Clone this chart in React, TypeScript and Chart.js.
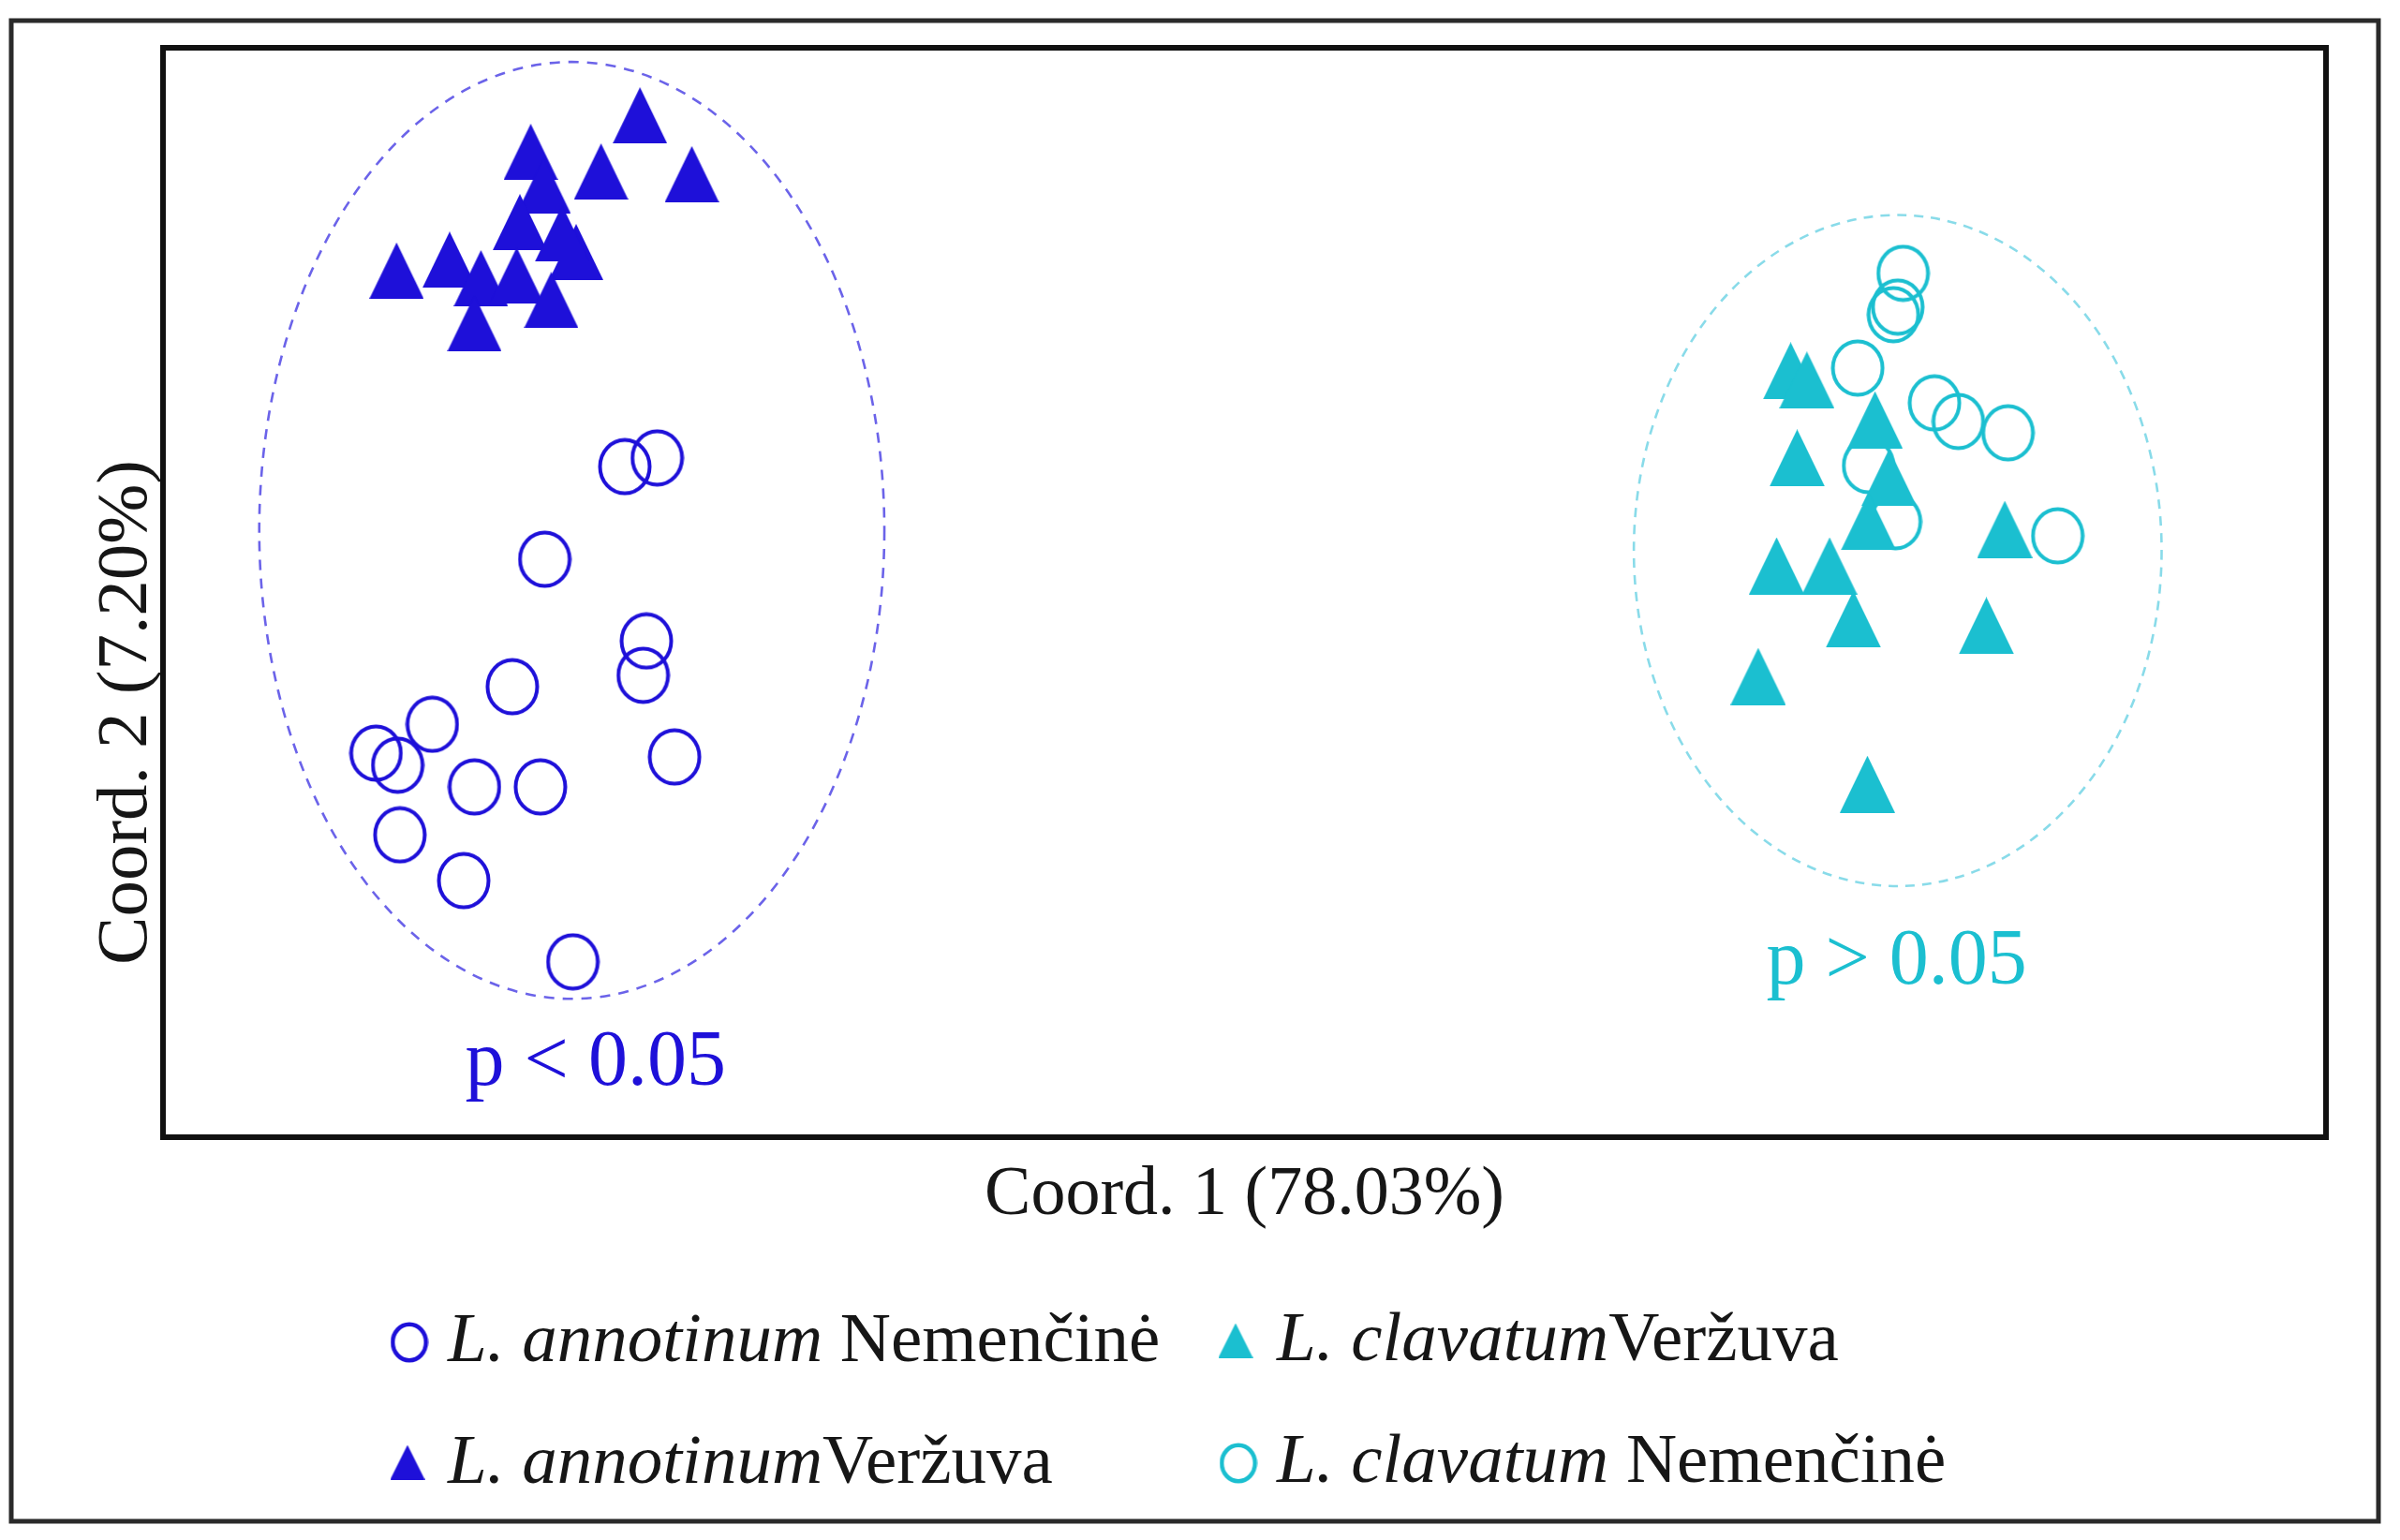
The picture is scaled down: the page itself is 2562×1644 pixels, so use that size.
import React, { useEffect, useRef } from 'react';
import { Chart, registerables } from 'chart.js';

Chart.register(...registerables);

const W = 2562;
const H = 1644;

// ---- data (arbitrary PCoA units, axes -1..1) ----
const annotinumVerzuvaX = [-0.559, -0.660, -0.595, -0.511, -0.648, -0.670, -0.618, -0.631, -0.784, -0.735, -0.706, -0.673, -0.641, -0.712];
const annotinumVerzuvaY = [0.876, 0.809, 0.773, 0.768, 0.747, 0.680, 0.625, 0.659, 0.591, 0.611, 0.577, 0.582, 0.537, 0.494];

const annotinumNemencineX = [-0.573, -0.543, -0.647, -0.553, -0.556, -0.677, -0.751, -0.803, -0.783, -0.712, -0.651, -0.527, -0.781, -0.722, -0.621];
const annotinumNemencineY = [0.231, 0.247, 0.061, -0.089, -0.152, -0.173, -0.242, -0.295, -0.317, -0.357, -0.357, -0.302, -0.445, -0.529, -0.678];

const clavatumNemencineX = [0.609, 0.604, 0.600, 0.567, 0.638, 0.660, 0.706, 0.577, 0.602, 0.752];
const clavatumNemencineY = [0.586, 0.524, 0.510, 0.412, 0.348, 0.314, 0.293, 0.233, 0.130, 0.104];

const clavatumVerzuvaX = [0.505, 0.520, 0.583, 0.511, 0.596, 0.577, 0.703, 0.492, 0.541, 0.563, 0.686, 0.475, 0.576];
const clavatumVerzuvaY = [0.407, 0.390, 0.317, 0.247, 0.211, 0.130, 0.116, 0.049, 0.049, -0.049, -0.061, -0.154, -0.352];

// confidence ellipses: [centerX, centerY, radiusX, radiusY]
const annotinumEllipse = [-0.622, 0.114, 0.289, 0.860];
const clavatumEllipse = [0.604, 0.077, 0.244, 0.616];

// significance labels: [x, y(baseline)]
const annotinumLabel = [-0.600, -0.904];
const clavatumLabel = [0.603, -0.718];
const annotinumLabelText = 'p < 0.05';
const clavatumLabelText = 'p > 0.05';

const xTitle = 'Coord. 1 (78.03%)';
const yTitle = 'Coord. 2 (7.20%)';

const BLUE = '#1e10d9';
const CYAN = '#1bbfd0';
const TEXT = '#161616';
const FONT = '"Liberation Serif", "Times New Roman", serif';

function makeTriangle(w: number, h: number, color: string) {
  const c = document.createElement('canvas');
  c.width = w;
  c.height = h;
  const g = c.getContext('2d')!;
  g.fillStyle = color;
  g.beginPath();
  g.moveTo(w / 2, 0);
  g.lineTo(w, h);
  g.lineTo(0, h);
  g.closePath();
  g.fill();
  return c;
}

function makeRing(w: number, h: number, lw: number, color: string) {
  const c = document.createElement('canvas');
  c.width = w;
  c.height = h;
  const g = c.getContext('2d')!;
  g.strokeStyle = color;
  g.lineWidth = lw;
  g.beginPath();
  g.ellipse(w / 2, h / 2, w / 2 - lw / 2 - 0.5, h / 2 - lw / 2 - 0.5, 0, 0, Math.PI * 2);
  g.stroke();
  return c;
}

function pts(xs: number[], ys: number[]) {
  return xs.map((x, i) => ({ x, y: ys[i] }));
}

export default function App() {
  const ref = useRef<HTMLCanvasElement>(null);

  useEffect(() => {
    const canvas = ref.current!;
    const triBlue = makeTriangle(58, 60, BLUE);
    const triCyan = makeTriangle(59, 61, CYAN);
    const ringBlue = makeRing(58, 62, 4, BLUE);
    const ringCyan = makeRing(58, 62, 4, CYAN);
    const legTriBlue = makeTriangle(37, 37, BLUE);
    const legTriCyan = makeTriangle(37, 37, CYAN);
    const legRingBlue = makeRing(41, 44, 4.5, BLUE);
    const legRingCyan = makeRing(41, 44, 4.5, CYAN);

    const decor = {
      id: 'decor',
      beforeDatasetsDraw(chart: any) {
        const { ctx, scales } = chart;
        const xs = scales.x;
        const ys = scales.y;
        const drawEll = (e: number[], color: string, dash: number[]) => {
          const cx = xs.getPixelForValue(e[0]);
          const cy = ys.getPixelForValue(e[1]);
          const rx = Math.abs(xs.getPixelForValue(e[0] + e[2]) - cx);
          const ry = Math.abs(ys.getPixelForValue(e[1] + e[3]) - cy);
          ctx.save();
          ctx.strokeStyle = color;
          ctx.lineWidth = 2.6;
          ctx.setLineDash(dash);
          ctx.beginPath();
          ctx.ellipse(cx, cy, rx, ry, 0, 0, Math.PI * 2);
          ctx.stroke();
          ctx.restore();
        };
        drawEll(annotinumEllipse, 'rgba(70,60,228,0.8)', [11, 9]);
        drawEll(clavatumEllipse, 'rgba(40,190,215,0.55)', [10, 8]);
      },
      afterDraw(chart: any) {
        const { ctx, chartArea, scales } = chart;
        const xs = scales.x;
        const ys = scales.y;
        ctx.save();
        // outer frame
        ctx.strokeStyle = '#2a2a2a';
        ctx.lineWidth = 5;
        ctx.strokeRect(12, 22, 2539 - 12, 1624 - 22);
        // plot frame
        ctx.strokeStyle = '#111';
        ctx.lineWidth = 6;
        ctx.strokeRect(chartArea.left, chartArea.top, chartArea.right - chartArea.left, chartArea.bottom - chartArea.top);

        // p labels
        ctx.textAlign = 'center';
        ctx.textBaseline = 'alphabetic';
        ctx.font = `84px ${FONT}`;
        ctx.fillStyle = BLUE;
        ctx.fillText(annotinumLabelText, xs.getPixelForValue(annotinumLabel[0]), ys.getPixelForValue(annotinumLabel[1]));
        ctx.fillStyle = CYAN;
        ctx.fillText(clavatumLabelText, xs.getPixelForValue(clavatumLabel[0]), ys.getPixelForValue(clavatumLabel[1]));

        // axis titles
        ctx.fillStyle = TEXT;
        ctx.font = `74px ${FONT}`;
        ctx.fillText(xTitle, (chartArea.left + chartArea.right) / 2 + 0, 1296);
        ctx.save();
        ctx.translate(156, (chartArea.top + chartArea.bottom) / 2 + 128);
        ctx.rotate(-Math.PI / 2);
        ctx.font = `77px ${FONT}`;
        ctx.fillText(yTitle, 0, 0);
        ctx.restore();

        // legend
        ctx.textAlign = 'left';
        const drawEntry = (marker: HTMLCanvasElement, mx: number, my: number, tx: number, ty: number, species: string, site: string) => {
          ctx.drawImage(marker, mx - marker.width / 2, my - marker.height / 2);
          let x = tx;
          ctx.fillStyle = TEXT;
          ctx.font = `italic 75px ${FONT}`;
          ctx.fillText(species, x, ty);
          x += ctx.measureText(species).width;
          ctx.font = `75px ${FONT}`;
          ctx.fillText(site, x, ty);
        };
        drawEntry(legRingBlue, 437, 1433, 478, 1453, 'L. annotinum', ' Nemenčinė');
        drawEntry(legTriBlue, 435, 1561, 478, 1583, 'L. annotinum', 'Veržuva');
        drawEntry(legTriCyan, 1319, 1431, 1363, 1452, 'L. clavatum', 'Veržuva');
        drawEntry(legRingCyan, 1322, 1562, 1363, 1582, 'L. clavatum', ' Nemenčinė');
        ctx.restore();
      },
    };

    const chart = new Chart(canvas, {
      type: 'scatter',
      data: {
        datasets: [
          { label: 'L. annotinum Veržuva', data: pts(annotinumVerzuvaX, annotinumVerzuvaY), pointStyle: triBlue as any, pointRadius: 30, order: 1 },
          { label: 'L. clavatum Veržuva', data: pts(clavatumVerzuvaX, clavatumVerzuvaY), pointStyle: triCyan as any, pointRadius: 30, order: 1 },
          { label: 'L. annotinum Nemenčinė', data: pts(annotinumNemencineX, annotinumNemencineY), pointStyle: ringBlue as any, pointRadius: 30, order: 2 },
          { label: 'L. clavatum Nemenčinė', data: pts(clavatumNemencineX, clavatumNemencineY), pointStyle: ringCyan as any, pointRadius: 30, order: 2 },
        ],
      },
      options: {
        responsive: false,
        animation: false,
        devicePixelRatio: 1,
        layout: { padding: { left: 174, right: W - 2483, top: 51, bottom: H - 1214 } },
        scales: {
          x: { type: 'linear', min: -1, max: 1, display: false },
          y: { type: 'linear', min: -1, max: 1, display: false },
        },
        plugins: { legend: { display: false }, tooltip: { enabled: false } },
      },
      plugins: [decor],
    });
    return () => chart.destroy();
  }, []);

  return (
    <div style={{ position: 'fixed', left: 0, top: 0, width: W, height: H, background: '#fff' }}>
      <canvas ref={ref} width={W} height={H} style={{ width: W, height: H, display: 'block' }} />
    </div>
  );
}
